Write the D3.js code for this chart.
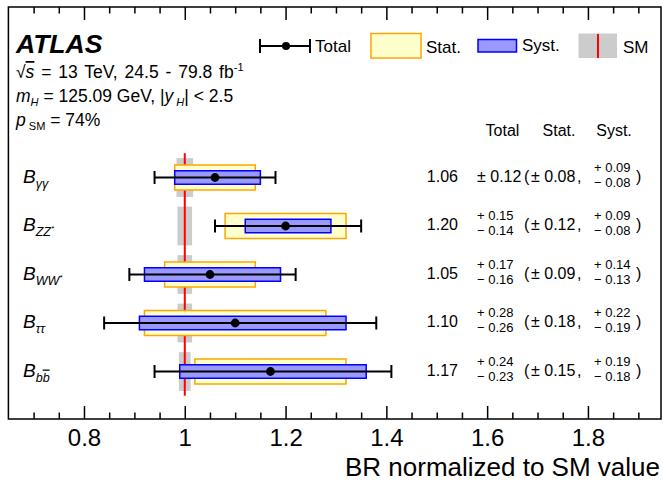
<!DOCTYPE html>
<html>
<head>
<meta charset="utf-8">
<script src="https://cdn.jsdelivr.net/npm/d3@7"></script>
<style>
  html, body { margin: 0; padding: 0; background: #fff; }
  svg { display: block; font-family: "Liberation Sans", Arial, Helvetica, sans-serif; }
</style>
</head>
<body>
<svg id="chart" width="663" height="482"></svg>
<script>
// ---- data ----
const categories = ["γγ", "ZZ*", "WW*", "ττ", "bb"];
const central   = [1.06, 1.20, 1.05, 1.10, 1.17];
const totalUp   = [0.12, 0.15, 0.17, 0.28, 0.24];
const totalDown = [0.12, 0.14, 0.16, 0.26, 0.23];
const statUp    = [0.08, 0.12, 0.09, 0.18, 0.15];
const statDown  = [0.08, 0.12, 0.09, 0.18, 0.15];
const systUp    = [0.09, 0.09, 0.14, 0.22, 0.19];
const systDown  = [0.08, 0.08, 0.13, 0.19, 0.18];
const smUnc     = [0.0165, 0.0145, 0.0145, 0.0145, 0.0116];
const smValue   = 1;
const majorTicks = [0.8, 1.0, 1.2, 1.4, 1.6, 1.8];
const minorTicks = [0.7, 0.75, 0.85, 0.9, 0.95, 1.05, 1.1, 1.15, 1.25, 1.3, 1.35, 1.45, 1.5, 1.55, 1.65, 1.7, 1.75, 1.85, 1.9];
const xDomain = [0.65, 1.945];

const svg = d3.select("#chart");
const frame = {left: 8.4, right: 661, top: 7, bottom: 419};

const x = d3.scaleLinear().domain(xDomain).range([frame.left, frame.right]);
const y = d3.scaleBand().domain(categories).range([153.25, 395.75]).padding(0);
const bw = y.bandwidth();
const cy = c => y(c) + bw / 2;

const rows = categories.map((c, i) => ({
  c, i, v: central[i],
  tu: totalUp[i], td: totalDown[i],
  su: statUp[i], sd: statDown[i],
  yu: systUp[i], yd: systDown[i],
  sm: smUnc[i]
}));

// ---- SM bands ----
svg.append("g").selectAll("rect").data(rows).join("rect")
  .attr("x", d => x(smValue - d.sm))
  .attr("width", d => x(smValue + d.sm) - x(smValue - d.sm))
  .attr("y", d => cy(d.c) - bw * 0.4)
  .attr("height", bw * 0.8)
  .attr("fill", "#cccccc");

svg.append("line")
  .attr("x1", x(smValue)).attr("x2", x(smValue))
  .attr("y1", y.range()[0]).attr("y2", y.range()[1])
  .attr("stroke", "#ff0000").attr("stroke-width", 2);

// ---- stat boxes ----
svg.append("g").selectAll("rect").data(rows).join("rect")
  .attr("x", d => x(d.v - d.sd))
  .attr("width", d => x(d.v + d.su) - x(d.v - d.sd))
  .attr("y", d => cy(d.c) - 12.5)
  .attr("height", 25)
  .attr("fill", "#ffffcc").attr("stroke", "#ffa500").attr("stroke-width", 1.5);

// ---- syst boxes ----
svg.append("g").selectAll("rect").data(rows).join("rect")
  .attr("x", d => x(d.v - d.yd))
  .attr("width", d => x(d.v + d.yu) - x(d.v - d.yd))
  .attr("y", d => cy(d.c) - 6.75)
  .attr("height", 13.5)
  .attr("fill", "#9999ff").attr("stroke", "#0000ff").attr("stroke-width", 1.5);

// ---- total error bars ----
const eb = svg.append("g").attr("stroke", "#000").attr("stroke-width", 2);
rows.forEach(d => {
  const yy = cy(d.c);
  eb.append("line").attr("x1", x(d.v - d.td)).attr("x2", x(d.v + d.tu)).attr("y1", yy).attr("y2", yy);
  eb.append("line").attr("x1", x(d.v - d.td)).attr("x2", x(d.v - d.td)).attr("y1", yy - 6.5).attr("y2", yy + 6.5);
  eb.append("line").attr("x1", x(d.v + d.tu)).attr("x2", x(d.v + d.tu)).attr("y1", yy - 6.5).attr("y2", yy + 6.5);
});
svg.append("g").selectAll("circle").data(rows).join("circle")
  .attr("cx", d => x(d.v)).attr("cy", d => cy(d.c)).attr("r", 4.4).attr("fill", "#000");

// ---- frame & axes ----
svg.append("rect")
  .attr("x", frame.left).attr("y", frame.top)
  .attr("width", frame.right - frame.left).attr("height", frame.bottom - frame.top)
  .attr("fill", "none").attr("stroke", "#000").attr("stroke-width", 1.5);

const fmt = d => String(+d.toFixed(1));
const axB = svg.append("g").attr("transform", `translate(0,${frame.bottom})`)
  .call(d3.axisBottom(x).tickValues(majorTicks).tickSizeInner(-13).tickSizeOuter(0).tickPadding(10).tickFormat(fmt));
const axBm = svg.append("g").attr("transform", `translate(0,${frame.bottom})`)
  .call(d3.axisBottom(x).tickValues(minorTicks).tickSizeInner(-6.5).tickSizeOuter(0).tickFormat(""));
const axT = svg.append("g").attr("transform", `translate(0,${frame.top})`)
  .call(d3.axisTop(x).tickValues(majorTicks).tickSizeInner(-13).tickSizeOuter(0).tickFormat(""));
const axTm = svg.append("g").attr("transform", `translate(0,${frame.top})`)
  .call(d3.axisTop(x).tickValues(minorTicks).tickSizeInner(-6.5).tickSizeOuter(0).tickFormat(""));
[axB, axBm, axT, axTm].forEach(a => {
  a.select(".domain").remove();
  a.selectAll(".tick line").attr("stroke", "#000").attr("stroke-width", 1.5);
});
axB.selectAll(".tick text").attr("font-size", 24).attr("fill", "#000")
  .attr("font-family", "'Liberation Sans', Arial, sans-serif");

svg.append("text").attr("x", 660).attr("y", 476).attr("text-anchor", "end")
  .attr("font-size", 26).text("BR normalized to SM value");

// ---- header text ----
svg.append("text").attr("x", 16).attr("y", 53).attr("font-size", 26.5)
  .attr("font-weight", "bold").attr("font-style", "italic").text("ATLAS");

const t1 = svg.append("text").attr("x", 16).attr("y", 78).attr("font-size", 17.5).attr("word-spacing", 2);
t1.append("tspan").text("√");
t1.append("tspan").attr("font-style", "italic").attr("text-decoration", "overline").text("s");
t1.append("tspan").text(" = 13 TeV, 24.5 - 79.8 fb");
t1.append("tspan").attr("font-size", 11).attr("dy", -7).text("-1");

const t2 = svg.append("text").attr("x", 16).attr("y", 102).attr("font-size", 17.5);
t2.append("tspan").attr("font-style", "italic").text("m");
t2.append("tspan").attr("font-style", "italic").attr("font-size", 11).attr("dy", 4).text("H");
t2.append("tspan").attr("dy", -4).text(" = 125.09 GeV, |");
t2.append("tspan").attr("font-style", "italic").text("y");
t2.append("tspan").attr("font-style", "italic").attr("font-size", 11).attr("dy", 4).text(" H");
t2.append("tspan").attr("dy", -4).text("| < 2.5");

const t3 = svg.append("text").attr("x", 16).attr("y", 126).attr("font-size", 17.5);
t3.append("tspan").attr("font-style", "italic").text("p");
t3.append("tspan").attr("font-size", 11).attr("dy", 4).text(" SM");
t3.append("tspan").attr("dy", -4).text(" = 74%");

// ---- legend ----
const lg = svg.append("g");
lg.append("line").attr("x1", 260).attr("x2", 310).attr("y1", 46).attr("y2", 46).attr("stroke", "#000").attr("stroke-width", 2);
lg.append("line").attr("x1", 260).attr("x2", 260).attr("y1", 39).attr("y2", 53).attr("stroke", "#000").attr("stroke-width", 2);
lg.append("line").attr("x1", 310).attr("x2", 310).attr("y1", 39).attr("y2", 53).attr("stroke", "#000").attr("stroke-width", 2);
lg.append("circle").attr("cx", 286).attr("cy", 46).attr("r", 4).attr("fill", "#000");
lg.append("text").attr("x", 315).attr("y", 52).attr("font-size", 17).text("Total");
lg.append("rect").attr("x", 371).attr("y", 33.5).attr("width", 50).attr("height", 24.5)
  .attr("fill", "#ffffcc").attr("stroke", "#ffa500").attr("stroke-width", 1.5);
lg.append("text").attr("x", 426).attr("y", 53).attr("font-size", 17).text("Stat.");
lg.append("rect").attr("x", 478).attr("y", 39.5).attr("width", 38.5).attr("height", 12.5)
  .attr("fill", "#9999ff").attr("stroke", "#0000ff").attr("stroke-width", 1.5);
lg.append("text").attr("x", 522).attr("y", 51).attr("font-size", 17).text("Syst.");
lg.append("rect").attr("x", 578.5).attr("y", 33.5).attr("width", 38.5).attr("height", 24.5).attr("fill", "#cccccc");
lg.append("line").attr("x1", 598).attr("x2", 598).attr("y1", 34).attr("y2", 58).attr("stroke", "#ff0000").attr("stroke-width", 2);
lg.append("text").attr("x", 623).attr("y", 53).attr("font-size", 17).text("SM");

// ---- row labels ----
rows.forEach(d => {
  const t = svg.append("text").attr("x", 23).attr("y", cy(d.c) + 5).attr("font-size", 19).attr("font-style", "italic");
  t.append("tspan").text("B");
  if (d.c === "ZZ*" || d.c === "WW*") {
    t.append("tspan").attr("font-size", 12.5).attr("dy", 5).text(d.c.slice(0, 2));
    t.append("tspan").attr("font-size", 8).attr("dy", -5).text("*");
  } else if (d.c === "bb") {
    t.append("tspan").attr("font-size", 12.5).attr("dy", 5).text("b");
    t.append("tspan").attr("font-size", 12.5).attr("text-decoration", "overline").text("b");
  } else {
    t.append("tspan").attr("font-size", 12.5).attr("dy", 5).text(d.c);
  }
});

// ---- table ----
const hdr = [["Total", 502.5], ["Stat.", 559], ["Syst.", 614]];
hdr.forEach(h => svg.append("text").attr("x", h[1]).attr("y", 136).attr("text-anchor", "middle")
  .attr("font-size", 16).text(h[0]));

const f2 = v => v.toFixed(2);
function errText(xx, yy, up, dn) {
  if (up === dn) {
    svg.append("text").attr("x", xx).attr("y", yy + 4).attr("font-size", 16).text("± " + f2(up));
  } else {
    svg.append("text").attr("x", xx).attr("y", yy - 6).attr("font-size", 13).text("+ " + f2(up));
    svg.append("text").attr("x", xx).attr("y", yy + 9).attr("font-size", 13).text("− " + f2(dn));
  }
}
rows.forEach(d => {
  const yy = cy(d.c);
  svg.append("text").attr("x", 458).attr("y", yy + 4).attr("text-anchor", "end").attr("font-size", 16).text(f2(d.v));
  errText(477, yy, d.tu, d.td);
  svg.append("text").attr("x", 524).attr("y", yy + 4).attr("font-size", 16).text("(");
  errText(531, yy, d.su, d.sd);
  svg.append("text").attr("x", 577).attr("y", yy + 4).attr("font-size", 16).text(",");
  errText(594, yy, d.yu, d.yd);
  svg.append("text").attr("x", 636).attr("y", yy + 4).attr("font-size", 16).text(")");
});
</script>
</body>
</html>
